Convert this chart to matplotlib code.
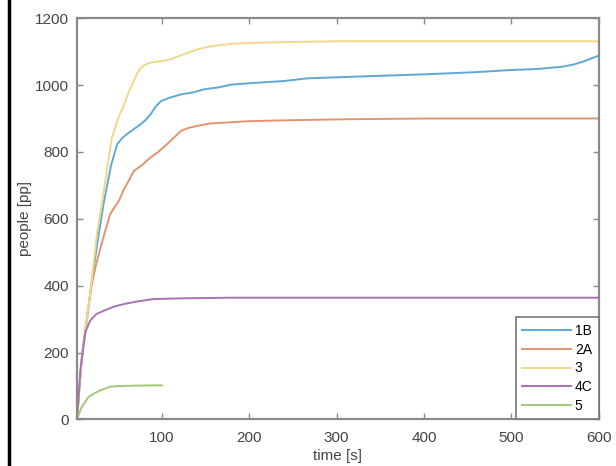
import matplotlib
matplotlib.use("Agg")
import matplotlib.pyplot as plt
from matplotlib.lines import Line2D

plt.rcParams['font.family'] = ['Liberation Sans', 'DejaVu Sans']

# series
t_1B = [3, 8, 14, 20, 27, 34, 42, 49, 55, 60, 68, 76, 82, 87, 93, 99, 110, 122, 136, 148,
        165, 179, 203, 240, 266, 320, 400, 455, 500, 530, 559, 572, 582, 592, 600]
v_1B = [0, 170, 290, 415, 540, 654, 760, 823, 842, 853, 868, 883, 897, 912, 935, 952, 963, 972, 978, 987,
        993, 1001, 1006, 1012, 1020, 1025, 1032, 1038, 1045, 1048, 1055, 1062, 1070, 1080, 1088]

t_2A = [3, 9, 15, 20, 25, 30, 36, 41, 46, 51, 57, 62, 68, 78, 87, 96, 106, 114, 122, 131,
        141, 155, 168, 200, 250, 320, 410, 600]
v_2A = [0, 200, 320, 405, 465, 514, 570, 614, 635, 654, 690, 713, 743, 762, 783, 800, 823, 843, 863, 872,
        878, 885, 887, 892, 895, 898, 900, 900]

t_3 = [3, 8, 14, 20, 26, 32, 38, 43, 50, 57, 63, 68, 72, 76, 82, 87, 100, 110, 120, 129,
       140, 156, 179, 200, 250, 300, 400, 500, 600]
v_3 = [0, 170, 295, 420, 560, 654, 760, 843, 900, 942, 985, 1012, 1035, 1052, 1062, 1067, 1072, 1077, 1087, 1096,
       1106, 1116, 1123, 1126, 1129, 1131, 1131, 1131, 1131]

t_4C = [3, 7, 12.5, 18, 25, 33.6, 45, 56.6, 70, 91, 122, 180, 250, 400, 600]
v_4C = [0, 150, 261, 295, 315, 325, 337, 345, 352, 360, 362, 364, 364, 364, 364]

t_5 = [3, 8, 16, 23, 30, 41, 55, 70, 100]
v_5 = [0, 35, 67, 78, 87, 98, 100, 101, 102]

labels = ['1B', '2A', '3', '4C', '5']
colors = ['#5fa8d3', '#e3946f', '#efd88a', '#a673b5', '#a2c978']

fig = plt.figure(figsize=(6.16, 4.66), dpi=100)
ax = fig.add_axes([0.125, 0.1, 0.847, 0.861])

series = [(t_1B, v_1B), (t_2A, v_2A), (t_3, v_3), (t_4C, v_4C), (t_5, v_5)]
for (t, v), lab, c in zip(series, labels, colors):
    ax.plot(t, v, color=c, lw=1.4, label=lab)

ax.set_xlim(3, 600)
ax.set_ylim(0, 1200)
ax.set_xticks([100, 200, 300, 400, 500, 600])
ax.set_yticks([0, 200, 400, 600, 800, 1000, 1200])

for s in ax.spines.values():
    s.set_color('#8a8a8a')
    s.set_linewidth(1.6)
ax.tick_params(direction='in', top=True, right=True, length=4, width=1,
               color='#8a8a8a', labelcolor='#444444', labelsize=11)
ax.tick_params(axis='x', pad=8)
ax.tick_params(axis='y', pad=6)

ax.set_xlabel('time [s]', fontsize=11, color='#444444', labelpad=3)
ax.set_ylabel('people [pp]', fontsize=11, color='#444444', labelpad=2)

leg = ax.legend(loc='lower right', borderaxespad=0, fancybox=False, fontsize=10,
                handlelength=3.5, labelspacing=0.35, handletextpad=0.3,
                borderpad=0.45, framealpha=1)
leg.get_frame().set_edgecolor('#777777')
leg.get_frame().set_linewidth(1.2)

# black border line at the left edge of the picture
fig.add_artist(Line2D([9 / 616, 9 / 616], [0, 1], color='black', lw=2.5))

fig.savefig('out.png', dpi=100)
